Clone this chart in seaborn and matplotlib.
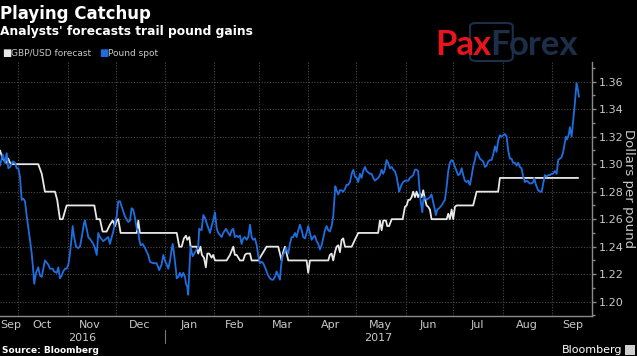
import numpy as np
import pandas as pd
import matplotlib
matplotlib.use("Agg")
import matplotlib.pyplot as plt
import matplotlib.dates as mdates
from matplotlib.ticker import MultipleLocator
from matplotlib.patches import FancyBboxPatch, Rectangle
import seaborn as sns

# ── Data (days counted from the first observation) ────────────────────────────
START = pd.Timestamp("2016-09-19 12:00")
END = pd.Timestamp("2017-09-26")

spot_days = [
    0, 1.7, 3.1, 4.2, 5.2, 6.3, 8.0, 9.4, 10.5, 11.5,
    12.5, 13.6, 14.6, 15.7, 16.8, 18.8, 19.9, 20.9, 21.5, 22.6,
    24.0, 25.1, 26.2, 27.2, 28.2, 30.3, 31.4, 33.1, 33.9, 35.6,
    36.6, 37.6, 38.7, 39.7, 40.8, 41.8, 42.9, 43.9, 45.0, 45.6,
    46.4, 47.7, 49.1, 50.2, 51.3, 52.7, 53.3, 54.4, 55.4, 56.9,
    58.5, 59.6, 60.7, 61.7, 62.7, 64.8, 66.9, 67.9, 69.0, 70.1,
    71.1, 72.2, 73.2, 74.2, 75.3, 76.4, 78.4, 80.5, 81.6, 82.6,
    83.6, 84.7, 85.8, 86.8, 87.4, 88.3, 89.5, 91.0, 93.0, 94.1,
    96.2, 98.3, 99.9, 101.4, 102.5, 103.5, 104.6, 105.6, 106.7, 107.7,
    108.4, 109.2, 110.4, 110.9, 111.9, 112.9, 114.0, 115.0, 116.1, 116.7,
    117.5, 118.1, 118.8, 119.6, 120.9, 121.9, 123.4, 124.4, 125.0, 126.5,
    127.6, 128.6, 129.7, 131.8, 132.8, 133.8, 134.9, 136.0, 137.0, 139.1,
    140.1, 141.8, 143.2, 144.3, 145.4, 146.4, 147.4, 148.5, 149.5, 150.6,
    151.6, 152.6, 153.7, 154.8, 155.8, 156.9, 157.9, 158.9, 160.0, 161.1,
    162.1, 163.1, 164.2, 165.2, 166.3, 167.3, 168.3, 169.4, 170.5, 171.5,
    172.5, 173.6, 174.6, 175.7, 176.3, 177.1, 178.2, 179.4, 180.9, 181.9,
    183.0, 184.0, 185.1, 186.1, 187.2, 188.2, 189.3, 190.3, 191.4, 192.4,
    193.4, 194.5, 195.6, 196.6, 197.6, 198.7, 199.7, 200.8, 201.8, 202.8,
    203.9, 205.0, 206.0, 207.0, 208.1, 209.1, 209.7, 210.4, 211.2, 212.3,
    213.3, 214.4, 215.4, 216.5, 217.5, 218.5, 219.6, 220.7, 221.7, 222.7,
    223.8, 224.8, 225.9, 226.9, 227.9, 229.0, 230.1, 232.1, 233.2, 234.2,
    235.3, 237.3, 238.4, 239.5, 240.5, 241.5, 242.6, 243.6, 244.7, 245.8,
    246.8, 247.8, 248.9, 249.9, 250.5, 251.0, 252.0, 253.0, 254.1, 256.2,
    257.2, 258.3, 259.3, 260.4, 261.4, 262.4, 263.1, 263.9, 265.0, 265.6,
    266.6, 267.7, 268.7, 269.8, 270.8, 271.9, 272.9, 273.5, 274.4, 275.6,
    277.1, 278.1, 279.2, 280.3, 281.3, 282.3, 283.4, 284.4, 285.5, 286.5,
    287.5, 288.6, 289.7, 290.7, 291.7, 292.8, 293.8, 294.4, 294.9, 295.9,
    296.9, 298.0, 299.1, 300.1, 301.2, 302.2, 303.2, 304.3, 305.4, 306.4,
    307.4, 308.5, 309.5, 310.6, 311.6, 312.6, 313.7, 314.8, 315.8, 316.8,
    317.9, 318.9, 320.0, 321.0, 322.0, 323.1, 324.2, 325.2, 326.2, 327.3,
    328.3, 329.4, 330.5, 331.5, 332.5, 333.6, 334.6, 335.2, 336.1, 336.7,
    337.7, 338.8, 339.9, 340.9, 341.9, 343.0, 344.0, 345.1, 346.1, 347.1,
    348.2, 349.3, 350.3, 351.3, 352.4, 353.4, 354.5, 355.1, 355.9, 357.0,
    357.6, 358.7, 359.7, 360.8, 361.8, 362.8, 363.3,
]
spot_values = [
    1.299, 1.307, 1.301, 1.308, 1.297, 1.298, 1.302, 1.301, 1.297, 1.297,
    1.291, 1.274, 1.275, 1.273, 1.262, 1.245, 1.235, 1.222, 1.213, 1.221,
    1.225, 1.219, 1.218, 1.224, 1.230, 1.227, 1.224, 1.224, 1.222, 1.221,
    1.225, 1.217, 1.219, 1.222, 1.224, 1.224, 1.227, 1.235, 1.247, 1.255,
    1.248, 1.240, 1.239, 1.240, 1.247, 1.257, 1.259, 1.253, 1.247, 1.245,
    1.242, 1.239, 1.234, 1.250, 1.247, 1.244, 1.246, 1.247, 1.242, 1.247,
    1.251, 1.258, 1.262, 1.273, 1.273, 1.269, 1.262, 1.258, 1.259, 1.268,
    1.267, 1.261, 1.253, 1.251, 1.245, 1.241, 1.242, 1.239, 1.234, 1.229,
    1.228, 1.228, 1.223, 1.227, 1.234, 1.230, 1.227, 1.224, 1.230, 1.238,
    1.242, 1.235, 1.223, 1.217, 1.218, 1.221, 1.218, 1.221, 1.218, 1.213,
    1.211, 1.205, 1.223, 1.240, 1.233, 1.235, 1.238, 1.240, 1.253, 1.252,
    1.263, 1.261, 1.257, 1.250, 1.255, 1.259, 1.265, 1.253, 1.250, 1.247,
    1.250, 1.253, 1.250, 1.248, 1.252, 1.253, 1.247, 1.248, 1.247, 1.248,
    1.242, 1.246, 1.247, 1.245, 1.247, 1.256, 1.247, 1.245, 1.246, 1.241,
    1.233, 1.228, 1.229, 1.228, 1.225, 1.222, 1.219, 1.217, 1.216, 1.216,
    1.218, 1.222, 1.219, 1.216, 1.225, 1.233, 1.235, 1.239, 1.235, 1.242,
    1.247, 1.247, 1.250, 1.247, 1.252, 1.256, 1.252, 1.247, 1.246, 1.250,
    1.255, 1.250, 1.245, 1.247, 1.248, 1.244, 1.242, 1.238, 1.241, 1.246,
    1.252, 1.255, 1.252, 1.251, 1.255, 1.262, 1.272, 1.284, 1.281, 1.278,
    1.281, 1.281, 1.280, 1.282, 1.285, 1.285, 1.287, 1.293, 1.296, 1.291,
    1.290, 1.287, 1.293, 1.290, 1.295, 1.298, 1.295, 1.293, 1.293, 1.290,
    1.288, 1.290, 1.292, 1.296, 1.293, 1.296, 1.303, 1.301, 1.297, 1.298,
    1.296, 1.295, 1.291, 1.284, 1.280, 1.282, 1.285, 1.287, 1.288, 1.288,
    1.290, 1.291, 1.292, 1.296, 1.296, 1.295, 1.284, 1.274, 1.265, 1.274,
    1.276, 1.274, 1.275, 1.276, 1.278, 1.272, 1.267, 1.263, 1.267, 1.268,
    1.270, 1.272, 1.274, 1.284, 1.295, 1.301, 1.303, 1.302, 1.298, 1.295,
    1.292, 1.293, 1.297, 1.292, 1.288, 1.287, 1.288, 1.286, 1.285, 1.291,
    1.298, 1.303, 1.309, 1.307, 1.304, 1.303, 1.302, 1.298, 1.299, 1.302,
    1.303, 1.303, 1.307, 1.313, 1.309, 1.317, 1.321, 1.320, 1.321, 1.322,
    1.320, 1.310, 1.304, 1.304, 1.301, 1.301, 1.299, 1.301, 1.298, 1.297,
    1.291, 1.287, 1.288, 1.287, 1.286, 1.286, 1.287, 1.290, 1.286, 1.284,
    1.281, 1.280, 1.280, 1.286, 1.292, 1.291, 1.292, 1.292, 1.293, 1.293,
    1.295, 1.293, 1.303, 1.304, 1.305, 1.309, 1.316, 1.320, 1.318, 1.322,
    1.327, 1.320, 1.332, 1.345, 1.359, 1.353, 1.349,
]

forecast_days = [
    0, 1.7, 3.8, 5.2, 6.3, 7.5, 24.0, 26.2, 28.2, 34.5,
    35.9, 37.6, 39.3, 41.8, 59.2, 60.7, 62.7, 64.4, 66.9, 69.0,
    70.7, 72.2, 73.2, 74.2, 75.7, 85.8, 86.8, 87.8, 110.9, 112.5,
    114.0, 115.4, 116.7, 117.5, 118.8, 119.6, 123.4, 124.4, 125.8, 126.7,
    128.0, 129.2, 130.1, 131.3, 132.8, 133.8, 134.9, 142.2, 144.3, 146.4,
    147.4, 148.5, 150.6, 152.6, 153.7, 154.8, 156.9, 157.9, 162.1, 167.3,
    174.6, 176.7, 177.7, 178.8, 179.9, 180.9, 192.4, 193.4, 194.5, 206.0,
    207.0, 208.1, 209.1, 210.2, 211.2, 212.3, 213.3, 214.4, 215.4, 216.5,
    220.7, 222.7, 224.8, 237.3, 238.4, 239.5, 240.5, 242.2, 243.0, 244.2,
    245.8, 252.7, 254.1, 255.2, 256.2, 257.2, 258.3, 259.3, 260.4, 261.4,
    262.4, 263.5, 264.6, 265.6, 266.6, 267.7, 268.7, 269.8, 270.8, 280.3,
    281.3, 282.3, 283.4, 284.4, 285.5, 286.5, 296.9, 299.1, 312.6, 313.7,
    362.8,
]
forecast_values = [
    1.310, 1.304, 1.301, 1.304, 1.301, 1.300, 1.300, 1.293, 1.280, 1.280,
    1.274, 1.260, 1.260, 1.270, 1.270, 1.260, 1.260, 1.251, 1.251, 1.256,
    1.259, 1.255, 1.259, 1.260, 1.250, 1.250, 1.259, 1.250, 1.250, 1.240,
    1.240, 1.246, 1.248, 1.245, 1.247, 1.240, 1.240, 1.235, 1.240, 1.234,
    1.232, 1.225, 1.235, 1.235, 1.232, 1.234, 1.230, 1.230, 1.234, 1.240,
    1.234, 1.234, 1.230, 1.230, 1.234, 1.235, 1.235, 1.230, 1.230, 1.240,
    1.240, 1.230, 1.236, 1.240, 1.235, 1.230, 1.230, 1.221, 1.230, 1.230,
    1.234, 1.235, 1.230, 1.236, 1.240, 1.241, 1.236, 1.245, 1.246, 1.240,
    1.240, 1.245, 1.250, 1.250, 1.259, 1.252, 1.259, 1.259, 1.255, 1.255,
    1.260, 1.260, 1.269, 1.270, 1.274, 1.274, 1.276, 1.280, 1.276, 1.280,
    1.276, 1.279, 1.276, 1.281, 1.275, 1.270, 1.269, 1.267, 1.260, 1.260,
    1.264, 1.260, 1.267, 1.260, 1.269, 1.270, 1.270, 1.280, 1.280, 1.290,
    1.290,
]

y_ticks = [1.20, 1.22, 1.24, 1.26, 1.28, 1.30, 1.32, 1.34, 1.36]
month_labels = ["Sep", "Oct", "Nov", "Dec", "Jan", "Feb", "Mar",
                "Apr", "May", "Jun", "Jul", "Aug", "Sep"]
month_label_dates = ["2016-09-26", "2016-10-16", "2016-11-15", "2016-12-16",
                     "2017-01-16", "2017-02-14", "2017-03-16", "2017-04-15",
                     "2017-05-16", "2017-06-15", "2017-07-16", "2017-08-16",
                     "2017-09-14"]
year_labels = ["2016", "2017"]
year_break = pd.Timestamp("2017-01-01")

BLUE = "#1f6ee0"
WHITE = "#e8e8e8"
GRID = "#4a4a4a"
SPINE = "#8a8a8a"
TXT = "#c8c8c8"
RED = "#e8141c"
NAVY = "#1c2e48"

# ── Theme ─────────────────────────────────────────────────────────────────────
sns.set_theme(style="dark", rc={"axes.facecolor": "black",
                                "figure.facecolor": "black"})
plt.rcParams["font.family"] = ["DejaVu Sans"]

W, H = 637, 356
fig = plt.figure(figsize=(W / 100, H / 100), dpi=100)
ax = fig.add_axes([0, 1 - 316 / H, 592 / W, 254 / H])
ax.set_facecolor("black")

spot = pd.DataFrame({"date": START + pd.to_timedelta(spot_days, unit="D"),
                     "value": spot_values})
fcst = pd.DataFrame({"date": START + pd.to_timedelta(forecast_days, unit="D"),
                     "value": forecast_values})

sns.lineplot(data=fcst, x="date", y="value", color=WHITE, lw=1.3, ax=ax)
sns.lineplot(data=spot, x="date", y="value", color=BLUE, lw=1.3, ax=ax)

ax.set_xlim(START, END)
ax.set_ylim(1.1896, 1.3743)
ax.set_xlabel("")
ax.set_ylabel("")

# y axis on the right
ax.yaxis.tick_right()
ax.set_yticks(y_ticks)
ax.set_yticklabels([f"{v:.2f}" for v in y_ticks])
ax.yaxis.set_minor_locator(MultipleLocator(0.01))
ax.tick_params(axis="y", which="major", direction="out", length=3, width=1,
               color=SPINE, labelcolor=TXT, labelsize=8, pad=2)
ax.tick_params(axis="y", which="minor", direction="out", length=2, width=1,
               color=SPINE)

# x axis: gridlines at month starts, labels mid-month
ax.xaxis.set_major_locator(mdates.MonthLocator())
ax.xaxis.set_major_formatter(plt.NullFormatter())
ax.set_xticks(pd.to_datetime(month_label_dates), minor=True)
ax.set_xticklabels(month_labels, minor=True)
ax.tick_params(axis="x", which="major", direction="out", length=3, width=1,
               color=SPINE)
ax.tick_params(axis="x", which="minor", length=0, labelcolor=TXT,
               labelsize=8, pad=3)

ax.grid(True, which="major", color=GRID, ls=(0, (1, 1.5)), lw=0.8)
ax.grid(False, which="minor")

for side in ["left", "top"]:
    ax.spines[side].set_visible(False)
for side in ["bottom", "right"]:
    ax.spines[side].set_visible(True)
    ax.spines[side].set_color(SPINE)
    ax.spines[side].set_linewidth(1)

# year labels and separator
xl = ax.get_xlim()
jb = mdates.date2num(year_break)
trans = ax.get_xaxis_transform()
ax.text((xl[0] + jb) / 2, -0.087, year_labels[0], transform=trans,
        ha="center", va="center", color=TXT, fontsize=8)
ax.text((jb + xl[1]) / 2, -0.087, year_labels[1], transform=trans,
        ha="center", va="center", color=TXT, fontsize=8)
ax.plot([jb, jb], [-0.055, -0.106], transform=trans, color="#777777",
        lw=0.8, clip_on=False)

# ── Titles, legend, labels ───────────────────────────────────────────────────
fig.text(0, 1 - 19 / H, "Playing Catchup", color="white", fontsize=12,
         fontweight="bold", va="baseline", ha="left")
fig.text(0, 1 - 35 / H, "Analysts' forecasts trail pound gains",
         color="white", fontsize=8.8, fontweight="bold", va="baseline",
         ha="left")
fig.text(2 / W, 1 - 56 / H, "\u25A0", color=WHITE, fontsize=7, va="baseline")
fig.text(11 / W, 1 - 56 / H, "GBP/USD forecast", color=TXT, fontsize=6.5,
         va="baseline")
fig.text(99 / W, 1 - 56 / H, "\u25A0", color=BLUE, fontsize=7, va="baseline")
fig.text(108 / W, 1 - 56 / H, "Pound spot", color=TXT, fontsize=6.5,
         va="baseline")

fig.text(629 / W, 1 - 189 / H, "Dollars per pound", color=TXT, fontsize=9.5,
         rotation=270, ha="center", va="center")

fig.text(2 / W, 1 - 353 / H, "Source: Bloomberg", color="white", fontsize=6.5,
         fontweight="bold", va="baseline")
fig.text(622 / W, 1 - 353 / H, "Bloomberg", color="white", fontsize=8,
         va="baseline", ha="right")
fig.patches.append(Rectangle((625 / W, 1 - 355 / H), 10 / W, 10 / H,
                             transform=fig.transFigure, facecolor="#d0d0d0",
                             edgecolor="none"))

# ── PaxForex logo ────────────────────────────────────────────────────────────
logo_base = 1 - 55 / H
renderer = fig.canvas.get_renderer()
x_cur = 435
pieces = [("Pa", RED), ("x", RED), ("F", NAVY), ("orex", NAVY)]
boxes = []
for s, c in pieces:
    t = fig.text(x_cur / W, logo_base, s, color=c, fontsize=25,
                 fontfamily="Lato", fontweight="bold", va="baseline")
    bb = t.get_window_extent(renderer)
    boxes.append(bb)
    x_cur = bb.x1 - 1
bx0 = boxes[1].x0 - 3
bx1 = boxes[2].x1 + 3
fig.patches.append(FancyBboxPatch((bx0 / W, 1 - 61 / H), (bx1 - bx0) / W,
                                  38 / H, boxstyle="round,pad=0,rounding_size=0.01",
                                  transform=fig.transFigure, facecolor="none",
                                  edgecolor=NAVY, lw=1.5))

fig.savefig("out.png", dpi=100, facecolor="black")
